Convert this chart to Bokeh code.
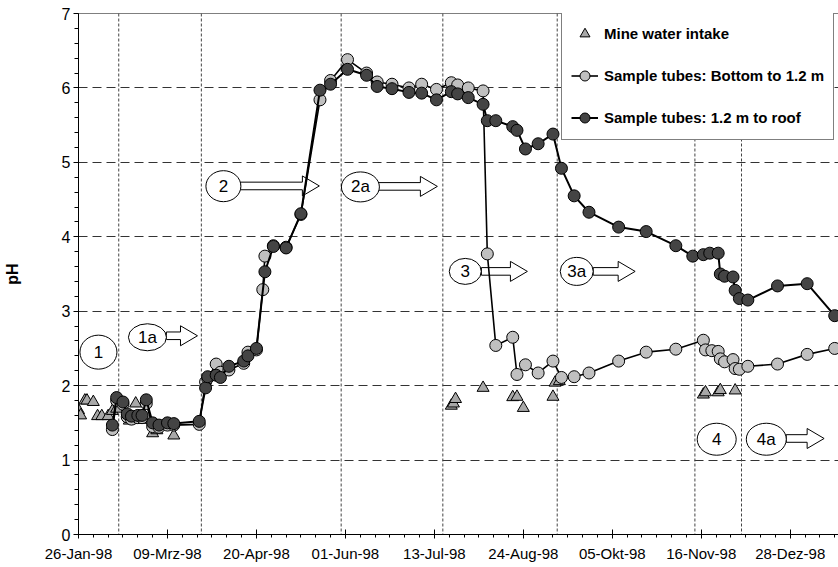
import pandas as pd
from bokeh.plotting import figure
from bokeh.models import (Span, Legend, LegendItem, FixedTicker, SingleIntervalTicker, Range1d)
from bokeh.embed import file_html
from bokeh.resources import INLINE
from bokeh.core.properties import value

# ---------------- data ----------------
intake_dates = ["1998-01-26", "1998-01-27", "1998-01-29", "1998-01-30", "1998-02-02", "1998-02-04",
                "1998-02-06", "1998-02-09", "1998-02-11", "1998-02-13", "1998-02-19", "1998-02-20",
                "1998-02-22", "1998-02-25", "1998-03-02", "1998-03-04", "1998-03-12", "1998-07-21",
                "1998-07-22", "1998-07-23", "1998-08-05", "1998-08-19", "1998-08-21", "1998-08-24",
                "1998-09-07", "1998-09-08", "1998-09-10", "1998-11-17", "1998-11-18", "1998-11-24",
                "1998-11-25", "1998-12-02"]
intake_ph = [1.67, 1.60, 1.80, 1.80, 1.78, 1.59, 1.59, 1.59, 1.66, 1.69, 1.53, 1.57, 1.76, 1.54,
             1.36, 1.40, 1.33, 1.73, 1.76, 1.82, 1.97, 1.845, 1.85, 1.70, 1.85, 2.04, 2.06,
             1.88, 1.91, 1.91, 1.94, 1.935]

bottom_dates = ["1998-02-11", "1998-02-13", "1998-02-16", "1998-02-18", "1998-02-20", "1998-02-23",
                "1998-02-25", "1998-02-27", "1998-03-02", "1998-03-05", "1998-03-09", "1998-03-12",
                "1998-03-24", "1998-03-27", "1998-03-28", "1998-04-01", "1998-04-03", "1998-04-07",
                "1998-04-14", "1998-04-16", "1998-04-20", "1998-04-23", "1998-04-24", "1998-04-28",
                "1998-05-04", "1998-05-11", "1998-05-20", "1998-05-25", "1998-06-02", "1998-06-11",
                "1998-06-16", "1998-06-23", "1998-07-01", "1998-07-07", "1998-07-14", "1998-07-21",
                "1998-07-24", "1998-07-29", "1998-08-05", "1998-08-07", "1998-08-11", "1998-08-19",
                "1998-08-21", "1998-08-25", "1998-08-31", "1998-09-07", "1998-09-11", "1998-09-17",
                "1998-09-24", "1998-10-08", "1998-10-21", "1998-11-04", "1998-11-17", "1998-11-18",
                "1998-11-21", "1998-11-24", "1998-11-25", "1998-11-27", "1998-12-01", "1998-12-02",
                "1998-12-04", "1998-12-08", "1998-12-22", "1999-01-05", "1999-01-18"]
bottom_ph = [1.41, 1.80, 1.75, 1.58, 1.55, 1.57, 1.57, 1.76, 1.45, 1.44,
             1.47, 1.47, 1.48, 2.05, 2.10, 2.29, 2.18, 2.21, 2.30, 2.45,
             2.48, 3.29, 3.74, 3.88, 3.86, 4.30, 5.84, 6.10, 6.38, 6.20,
             6.08, 6.05, 6.00, 6.05, 5.98, 6.07, 6.04, 6.00, 5.96, 3.77,
             2.54, 2.65, 2.15, 2.28, 2.17, 2.33, 2.11, 2.12, 2.17, 2.33,
             2.45, 2.49, 2.61, 2.48, 2.47, 2.46, 2.36, 2.32, 2.35, 2.23,
             2.22, 2.26, 2.29, 2.42, 2.50]

roof_dates = ["1998-02-11", "1998-02-13", "1998-02-16", "1998-02-18", "1998-02-20", "1998-02-23",
              "1998-02-25", "1998-02-27", "1998-03-02", "1998-03-05", "1998-03-09", "1998-03-12",
              "1998-03-24", "1998-03-27", "1998-03-28", "1998-04-01", "1998-04-03", "1998-04-07",
              "1998-04-14", "1998-04-16", "1998-04-20", "1998-04-24", "1998-04-28", "1998-05-04",
              "1998-05-11", "1998-05-20", "1998-05-25", "1998-06-02", "1998-06-11", "1998-06-16",
              "1998-06-23", "1998-07-01", "1998-07-07", "1998-07-14", "1998-07-21", "1998-07-24",
              "1998-07-29", "1998-08-05", "1998-08-07", "1998-08-11", "1998-08-19", "1998-08-21",
              "1998-08-25", "1998-08-31", "1998-09-07", "1998-09-11", "1998-09-17", "1998-09-24",
              "1998-10-08", "1998-10-21", "1998-11-04", "1998-11-12", "1998-11-17", "1998-11-20",
              "1998-11-24", "1998-11-25", "1998-11-27", "1998-12-01", "1998-12-02", "1998-12-04",
              "1998-12-08", "1998-12-22", "1999-01-05", "1999-01-18"]
roof_ph = [1.47, 1.84, 1.78, 1.62, 1.59, 1.60, 1.60, 1.81, 1.50, 1.47,
           1.50, 1.49, 1.52, 1.97, 2.12, 2.14, 2.11, 2.26, 2.33, 2.40,
           2.50, 3.53, 3.87, 3.85, 4.31, 5.97, 6.05, 6.25, 6.17, 6.02,
           5.99, 5.94, 5.93, 5.84, 5.95, 5.92, 5.87, 5.78, 5.56, 5.56,
           5.48, 5.43, 5.18, 5.25, 5.38, 4.92, 4.55, 4.33, 4.13, 4.07,
           3.88, 3.74, 3.76, 3.78, 3.78, 3.50, 3.47, 3.46, 3.28, 3.17,
           3.15, 3.34, 3.37, 2.94]

tick_dates = ["1998-01-26", "1998-03-09", "1998-04-20", "1998-06-01", "1998-07-13",
              "1998-08-24", "1998-10-05", "1998-11-16", "1998-12-28"]
tick_labels = ["26-Jan-98", "09-Mrz-98", "20-Apr-98", "01-Jun-98", "13-Jul-98",
               "24-Aug-98", "05-Okt-98", "16-Nov-98", "28-Dez-98"]

phase_dates = ["1998-02-14", "1998-03-25", "1998-05-30", "1998-07-17", "1998-09-09",
               "1998-11-13", "1998-12-05"]

# phase annotations: label, centre date, centre pH
phase_labels = ["1", "1a", "2", "2a", "3", "3a", "4", "4a"]
phase_lab_x = ["1998-02-04 10:00", "1998-02-27 13:00", "1998-04-04 10:00", "1998-06-08 02:00",
               "1998-07-27 14:00", "1998-09-18 05:00", "1998-11-23 07:00", "1998-12-16 17:00"]
phase_lab_y = [2.45, 2.65, 4.68, 4.67, 3.535, 3.535, 1.28, 1.28]
# arrows: start date, end date, pH
arrow_start = ["1998-03-08 12:00", "1998-04-12 11:00", "1998-06-15 14:00", "1998-08-04 05:00",
               "1998-09-26 00:00", "1998-12-26 02:00"]
arrow_end = ["1998-03-23 04:00", "1998-05-19 17:00", "1998-07-14 10:00", "1998-08-25 22:00",
             "1998-10-15 19:00", "1999-01-13 00:00"]
arrow_y = [2.67, 4.683, 4.677, 3.535, 3.535, 1.29]


def ms(s):
    return pd.Timestamp(s).value / 1e6


DAY = 86400000.0
FONT = "Liberation Sans"

# ---------------- layout ----------------
W, H = 838, 567
ML, MT, MB, MR = 77, 13, 33, 0
FW = W - ML - MR
FH = H - MT - MB
PX_PER_DAY = 2.121
X0 = ms("1998-01-26")
X1 = X0 + FW / PX_PER_DAY * DAY
PX_X = DAY / PX_PER_DAY        # ms per pixel
PX_Y = 7.0 / FH                 # pH per pixel

p = figure(width=W, height=H, x_range=Range1d(X0, X1), y_range=Range1d(0, 7),
           output_backend="svg", toolbar_location=None,
           min_border_left=ML, min_border_right=MR, min_border_top=MT, min_border_bottom=MB)
p.outline_line_color = None
p.background_fill_color = "white"
p.xgrid.visible = False
p.ygrid.grid_line_color = "#333333"
p.ygrid.grid_line_dash = "9 5"
p.ygrid.grid_line_width = 1

# axes
p.xaxis.ticker = FixedTicker(ticks=[ms(d) for d in tick_dates],
                             minor_ticks=[X0 + k * 7 * DAY for k in range(0, 53)])
p.xaxis.major_label_overrides = {ms(d): lab for d, lab in zip(tick_dates, tick_labels)}
p.xaxis.major_tick_in = 5
p.xaxis.major_tick_out = 4
p.xaxis.minor_tick_in = 0
p.xaxis.minor_tick_out = 3
p.xaxis.major_label_standoff = 6
p.xaxis.major_label_text_font_size = "15px"

p.yaxis.ticker = SingleIntervalTicker(interval=1, num_minor_ticks=5)
p.yaxis.major_tick_in = 0
p.yaxis.major_tick_out = 5
p.yaxis.minor_tick_in = 0
p.yaxis.minor_tick_out = 4
p.yaxis.major_label_standoff = 3
p.yaxis.major_label_text_font_size = "16px"
p.yaxis.axis_label = "pH"
p.yaxis.axis_label_text_font_style = "bold"
p.yaxis.axis_label_text_font_size = "16px"
p.yaxis.axis_label_standoff = 38

for ax in (p.xaxis, p.yaxis):
    ax.axis_line_color = "black"
    ax.axis_line_width = 1
    ax.major_tick_line_color = "black"
    ax.minor_tick_line_color = "black"
    ax.major_label_text_color = "black"
    ax.major_label_text_font = FONT
    ax.axis_label_text_font = FONT
    ax.axis_label_text_color = "black"

# phase boundaries and top border
for d in phase_dates:
    p.add_layout(Span(location=ms(d), dimension="height", line_color="#444444",
                      line_dash="3 2", line_width=1, level="underlay"))
p.add_layout(Span(location=7, dimension="width", line_color="black", line_width=1))

# arrows (hollow block arrows)
xs_list, ys_list = [], []
for s, e, y in zip(arrow_start, arrow_end, arrow_y):
    xs, xe = ms(s), ms(e)
    head = 17 * PX_X
    sh, hh = 3.8 * PX_Y, 10 * PX_Y
    xs_list.append([xs, xe - head, xe - head, xe, xe - head, xe - head, xs])
    ys_list.append([y + sh, y + sh, y + hh, y, y - hh, y - sh, y - sh])
p.patches(xs_list, ys_list, fill_color="white", line_color="black", line_width=1)

# ellipses with phase labels
ell_w = [37, 38, 35, 38, 32, 33, 39, 40]
ell_h = [34, 27, 31, 30, 26, 28, 32, 32]
p.ellipse(x=[ms(d) for d in phase_lab_x], y=phase_lab_y, width=ell_w, height=ell_h,
          width_units="screen", height_units="screen",
          fill_color="white", line_color="black", line_width=1)
p.text(x=[ms(d) for d in phase_lab_x], y=phase_lab_y, text=phase_labels,
       text_font=value(FONT), text_font_size="17px", text_align="center",
       text_baseline="middle", text_color="black")

# data series
r_tri = p.scatter([ms(d) for d in intake_dates], intake_ph, marker="triangle", size=12,
                  fill_color="#a8a8a8", line_color="black", line_width=1)
r_bl = p.line([ms(d) for d in bottom_dates], bottom_ph, line_color="black", line_width=1.6)
r_bs = p.scatter([ms(d) for d in bottom_dates], bottom_ph, marker="circle", size=12,
                 fill_color="#c0c0c0", line_color="black", line_width=1)
r_rl = p.line([ms(d) for d in roof_dates], roof_ph, line_color="black", line_width=2)
r_rs = p.scatter([ms(d) for d in roof_dates], roof_ph, marker="circle", size=12,
                 fill_color="#444444", line_color="black", line_width=1)

legend = Legend(items=[
    LegendItem(label="Mine water intake", renderers=[r_tri]),
    LegendItem(label="Sample tubes: Bottom to 1.2 m", renderers=[r_bl, r_bs]),
    LegendItem(label="Sample tubes: 1.2 m to roof", renderers=[r_rl, r_rs]),
], location=(483, 394))
legend.border_line_color = "black"
legend.border_line_width = 1
legend.background_fill_color = "white"
legend.background_fill_alpha = 1
legend.padding = 9
legend.margin = 0
legend.spacing = 17
legend.glyph_height = 25
legend.glyph_width = 27
legend.label_height = 25
legend.label_standoff = 6
legend.label_text_font = FONT
legend.label_text_font_size = "15px"
legend.label_text_font_style = "bold"
legend.label_text_color = "black"
p.add_layout(legend)

open("out.html", "w").write(file_html(p, INLINE))
